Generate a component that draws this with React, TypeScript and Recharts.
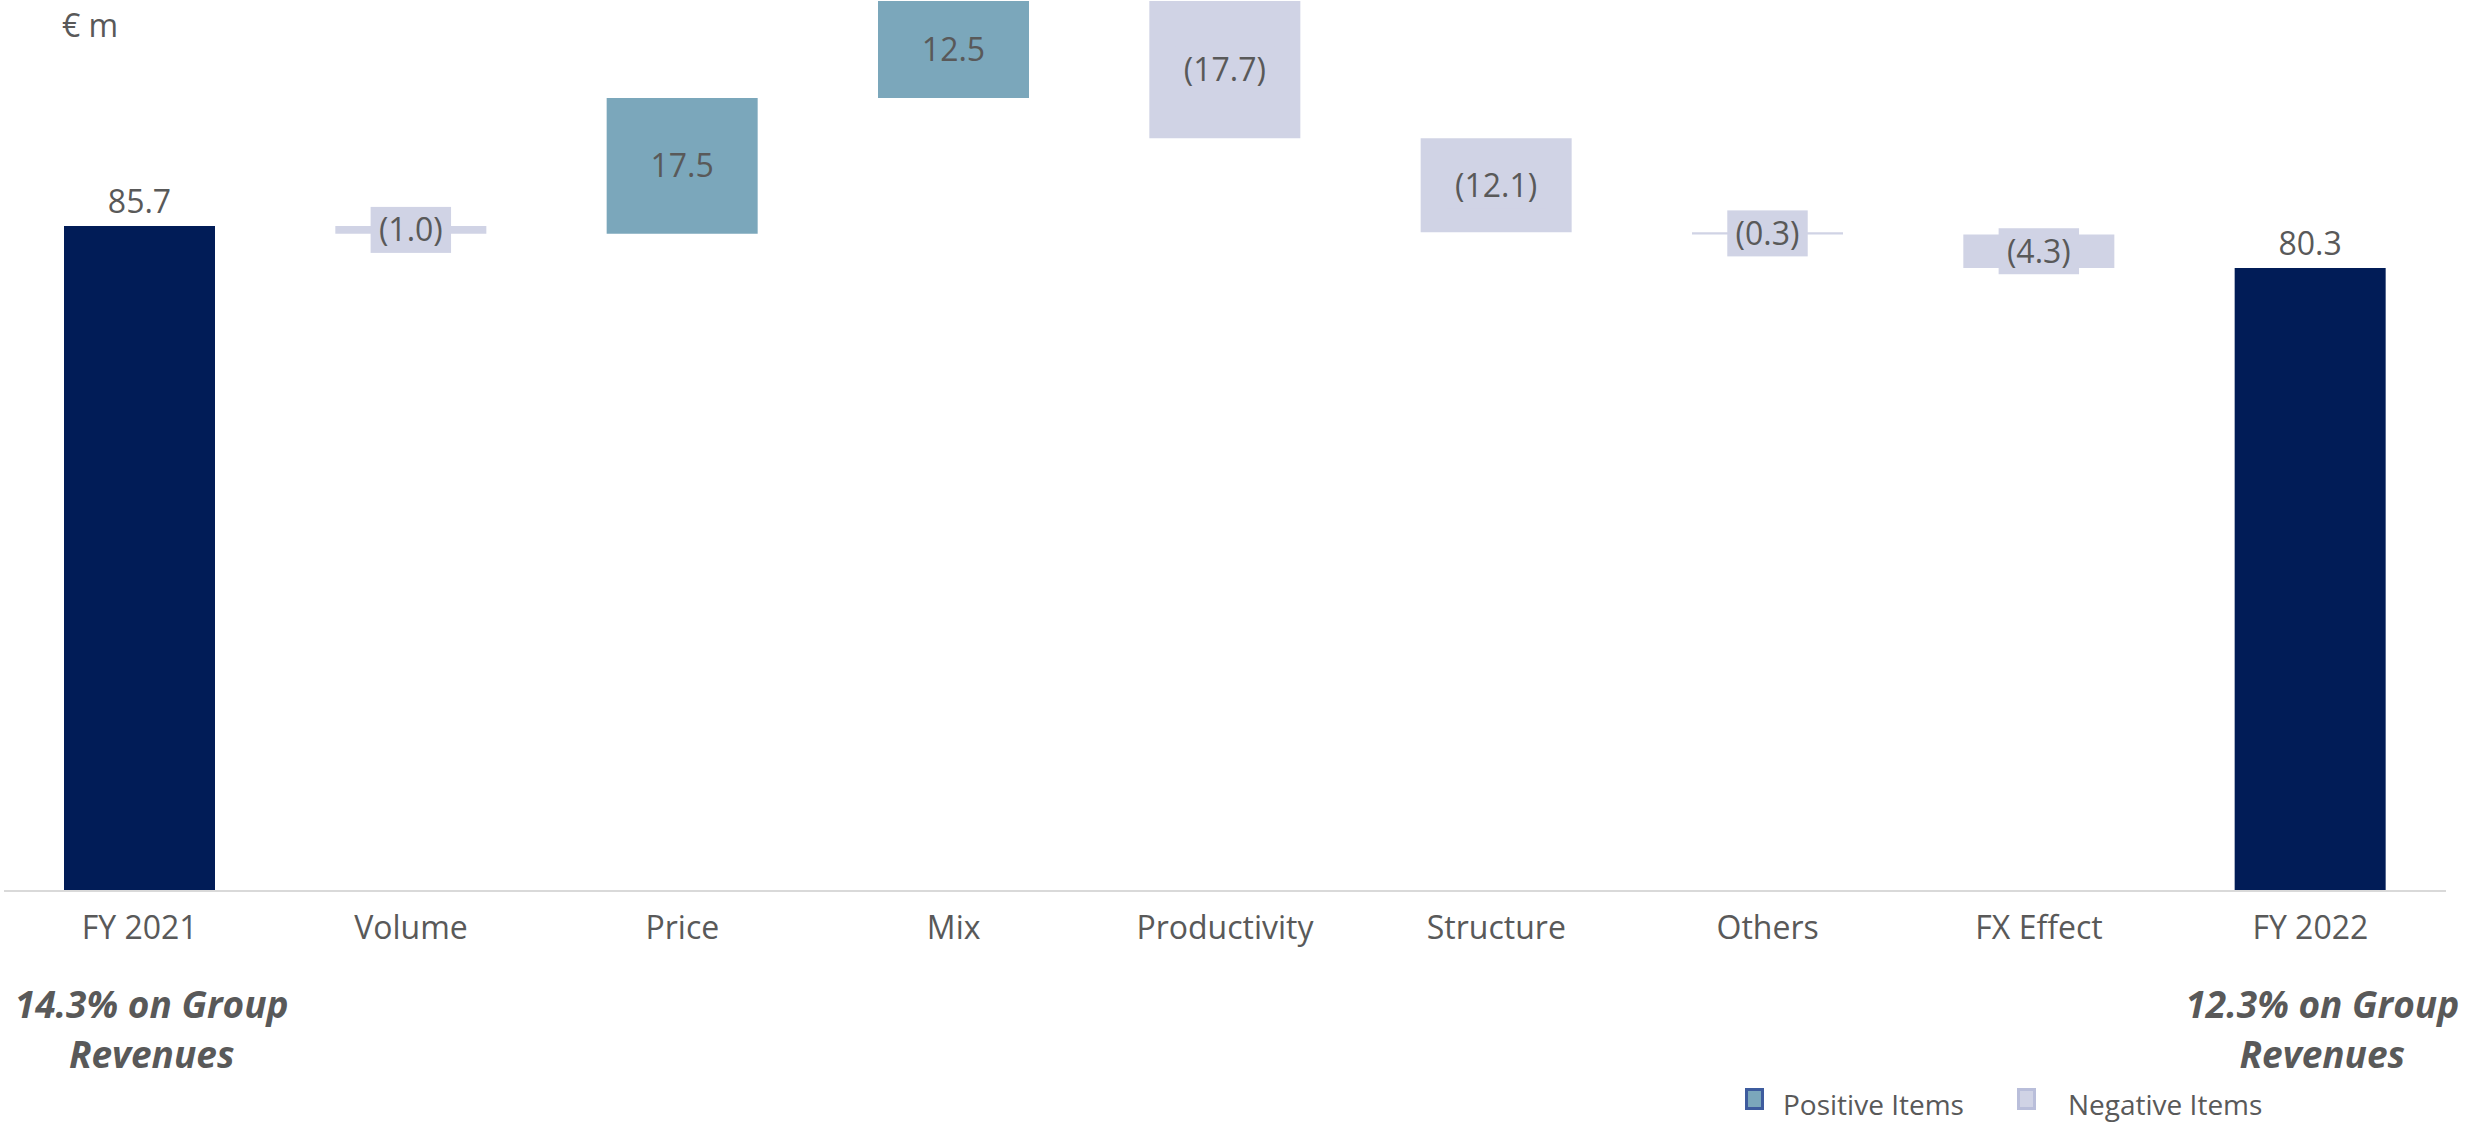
import { BarChart, Bar, XAxis, YAxis, Cell, LabelList } from 'recharts';

const categories = ['FY 2021', 'Volume', 'Price', 'Mix', 'Productivity', 'Structure', 'Others', 'FX Effect', 'FY 2022'];
const amounts = [85.7, -1.0, 17.5, 12.5, -17.7, -12.1, -0.3, -4.3, 80.3];
const totalFlags = [true, false, false, false, false, false, false, false, true];
const noteLines = [
  ['14.3% on Group', 'Revenues'],
  [], [], [], [], [], [], [],
  ['12.3% on Group', 'Revenues'],
];
const legendItems = [
  { label: 'Positive Items', kind: 'pos' },
  { label: 'Negative Items', kind: 'neg' },
];

const COLORS: Record<string, string> = {
  total: '#011C57',
  pos: '#7BA7BB',
  neg: '#D0D3E5',
};
const LEGEND_BORDER: Record<string, string> = {
  pos: '#3E5C9E',
  neg: '#B9BEDA',
};
const TEXT = '#595959';
const FONT = '"Open Sans", "Noto Sans", sans-serif';

// waterfall: each bar is a [low, high] range on a running total
let running = 0;
const rows = categories.map((name, i) => {
  const v = amounts[i];
  let low: number;
  let high: number;
  let kind: string;
  if (totalFlags[i]) {
    low = 0;
    high = v;
    running = v;
    kind = 'total';
  } else {
    const next = running + v;
    low = Math.min(running, next);
    high = Math.max(running, next);
    running = next;
    kind = v >= 0 ? 'pos' : 'neg';
  }
  const text = kind === 'neg' ? `(${Math.abs(v).toFixed(1)})` : v.toFixed(1);
  return { name, range: [low, high], kind, tag: `${kind}|${text}` };
});
const maxTop = Math.max(...rows.map((r) => r.range[1]));

const charWidth = (c: string) => {
  if ('0123456789'.includes(c)) return 0.572;
  if (c === '.') return 0.27;
  if (c === '(' || c === ')') return 0.3;
  return 0.55;
};

const renderValueLabel = (props: any) => {
  const vb = props.viewBox || props;
  let { x, y, width, height } = vb;
  if (height < 0) {
    y = y + height;
    height = -height;
  }
  const [kind, text] = String(props.value).split('|');
  const cx = x + width / 2;
  const cy = y + height / 2;
  if (kind === 'total') {
    return (
      <text x={cx} y={y - 13} textAnchor="middle" fontSize={32} fill={TEXT} fontFamily={FONT}>
        {text}
      </text>
    );
  }
  const textW = text.split('').reduce((s, c) => s + charWidth(c), 0) * 32;
  return (
    <g>
      {kind === 'neg' && (
        <rect x={cx - textW / 2 - 8} y={cy - 23} width={textW + 16} height={46} fill={COLORS.neg} />
      )}
      <text x={cx} y={cy + 11.5} textAnchor="middle" fontSize={32} fill={TEXT} fontFamily={FONT}>
        {text}
      </text>
    </g>
  );
};

const CategoryTick = (props: any) => {
  const { x, y, payload } = props;
  const lines = noteLines[payload.index] || [];
  return (
    <g>
      <text x={x} y={y + 48} textAnchor="middle" fontSize={32} fill={TEXT} fontFamily={FONT}>
        {payload.value}
      </text>
      {lines.map((line, k) => (
        <text
          key={k}
          x={x + 12}
          y={y + 127 + k * 50}
          textAnchor="middle"
          fontSize={37}
          fontWeight={700}
          fontStyle="italic"
          fill={TEXT}
          fontFamily={FONT}
        >
          {line}
        </text>
      ))}
    </g>
  );
};

export default function App() {
  return (
    <div style={{ position: 'fixed', left: 0, top: 0, width: 2476, height: 1125, background: '#fff' }}>
      <BarChart
        width={2476}
        height={1125}
        data={rows}
        margin={{ top: 1, right: 30, bottom: 0, left: 4 }}
      >
        <XAxis
          dataKey="name"
          interval={0}
          height={234}
          tickLine={false}
          tickSize={0}
          tickMargin={0}
          axisLine={{ stroke: '#D9D9D9', strokeWidth: 2 }}
          tick={<CategoryTick />}
        />
        <YAxis hide type="number" domain={[0, maxTop]} allowDataOverflow />
        <Bar dataKey="range" barSize={151} isAnimationActive={false}>
          {rows.map((r, i) => (
            <Cell key={i} fill={COLORS[r.kind]} />
          ))}
          <LabelList dataKey="tag" content={renderValueLabel} />
        </Bar>
      </BarChart>
      <svg
        width={2476}
        height={1125}
        style={{ position: 'absolute', left: 0, top: 0, pointerEvents: 'none' }}
      >
        <text x={62} y={37} fontSize={32} fill={TEXT} fontFamily={FONT}>
          € m
        </text>
        {legendItems.map((item, i) => {
          const x0 = i === 0 ? 1745 : 2017;
          const tx = i === 0 ? 1783 : 2068;
          return (
            <g key={item.kind}>
              <rect
                x={x0 + 1.5}
                y={1089.5}
                width={16}
                height={19}
                fill={COLORS[item.kind]}
                stroke={LEGEND_BORDER[item.kind]}
                strokeWidth={3}
              />
              <text x={tx} y={1115} fontSize={28} fill={TEXT} fontFamily={FONT}>
                {item.label}
              </text>
            </g>
          );
        })}
      </svg>
    </div>
  );
}
